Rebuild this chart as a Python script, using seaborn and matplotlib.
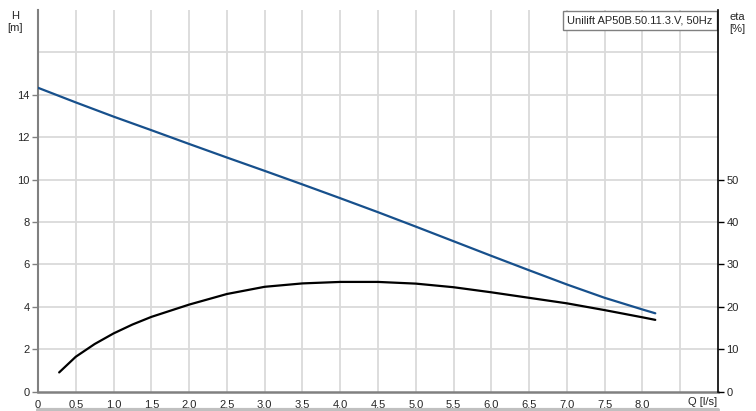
import seaborn as sns
import pandas as pd
import matplotlib.pyplot as plt
from matplotlib.lines import Line2D

# pump curve
q_head = [0, 0.5, 1.0, 1.5, 2.0, 2.5, 3.0, 3.5, 4.0, 4.5, 5.0, 5.5, 6.0, 6.5, 7.0, 7.5, 8.0, 8.17]
head = [14.33, 13.64, 12.97, 12.33, 11.68, 11.04, 10.41, 9.77, 9.12, 8.46, 7.78, 7.09, 6.40, 5.72, 5.05, 4.42, 3.87, 3.69]

q_eta = [0.28, 0.5, 0.75, 1.0, 1.25, 1.5, 2.0, 2.5, 3.0, 3.5, 4.0, 4.5, 5.0, 5.5, 6.0, 6.5, 7.0, 7.5, 8.0, 8.17]
eta = [4.5, 8.2, 11.2, 13.7, 15.8, 17.6, 20.5, 23.0, 24.7, 25.5, 25.85, 25.85, 25.45, 24.6, 23.4, 22.1, 20.8, 19.2, 17.5, 16.9]

x_ticks = [0, 0.5, 1.0, 1.5, 2.0, 2.5, 3.0, 3.5, 4.0, 4.5, 5.0, 5.5, 6.0, 6.5, 7.0, 7.5, 8.0, 8.5]
x_labels = ["0", "0.5", "1.0", "1.5", "2.0", "2.5", "3.0", "3.5", "4.0", "4.5",
            "5.0", "5.5", "6.0", "6.5", "7.0", "7.5", "8.0", ""]
h_ticks = [0, 2, 4, 6, 8, 10, 12, 14]
eta_ticks = [0, 10, 20, 30, 40, 50]
title = "Unilift AP50B.50.11.3.V, 50Hz"

df_h = pd.DataFrame({"Q": q_head, "H": head})
df_eta = pd.DataFrame({"Q": q_eta, "eta": eta})

sns.set_style("white")
plt.rcParams['font.family'] = ['Liberation Sans', 'DejaVu Sans']
plt.rcParams['font.size'] = 8

fig = plt.figure(figsize=(7.56, 4.11), dpi=100)
ax = fig.add_axes([38 / 756, 1 - 391.5 / 411, 680 / 756, 381.5 / 411])
ax2 = ax.twinx()

grid_c = "#dadada"
for xv in x_ticks[1:]:
    ax.axvline(xv, color=grid_c, lw=1.3, zorder=0)
for yv in [2, 4, 6, 8, 10, 12, 14, 16]:
    ax.axhline(yv, color=grid_c, lw=1.3, zorder=0)

sns.lineplot(data=df_h, x="Q", y="H", ax=ax, color="#17508c", lw=1.6, zorder=3)
sns.lineplot(data=df_eta, x="Q", y="eta", ax=ax2, color="black", lw=1.6, zorder=3)

ax.set_xlim(0, 9)
ax.set_ylim(0, 18)
ax2.set_ylim(0, 90)

ax.set_xticks(x_ticks)
ax.set_xticklabels(x_labels)
ax.set_yticks(h_ticks)
ax2.set_yticks(eta_ticks)
ax.set_xlabel("")
ax.set_ylabel("")
ax2.set_ylabel("")

for a in (ax, ax2):
    for s in a.spines.values():
        s.set_visible(False)
ax.spines['left'].set_visible(True)
ax.spines['left'].set_color("#808080")
ax.spines['left'].set_linewidth(1.5)
ax.spines['bottom'].set_visible(True)
ax.spines['bottom'].set_color("#808080")
ax.spines['bottom'].set_linewidth(1.8)
ax2.spines['right'].set_visible(True)
ax2.spines['right'].set_color("black")
ax2.spines['right'].set_linewidth(1.2)

ax.tick_params(axis='x', direction='out', length=4, width=1, color="#808080", pad=2, labelsize=8)
ax.tick_params(axis='y', direction='out', length=4, width=1, color="#808080", pad=2, labelsize=8)
ax2.tick_params(axis='y', direction='out', length=4, width=1, color="black", pad=2, labelsize=8)

fig.text(717 / 756, 1 - 402 / 411, "Q [l/s]", ha='right', va='center', fontsize=8)
fig.text(15 / 756, 1 - 22 / 411, "H\n[m]", ha='center', va='center', fontsize=8, linespacing=1.35)
fig.text(737 / 756, 1 - 23 / 411, "eta\n[%]", ha='center', va='center', fontsize=8, linespacing=1.35)

ax.text(0.992, 0.986, title, transform=ax.transAxes, ha='right', va='top', fontsize=8,
        bbox=dict(boxstyle='square,pad=0.4', facecolor='white', edgecolor='#808080', lw=1), zorder=5)

# grey strip at the bottom edge
fig.add_artist(Line2D([38 / 756, 718 / 756], [1 - 409.5 / 411, 1 - 409.5 / 411], color="#c0c0c0", lw=3,
                      transform=fig.transFigure))

plt.savefig("out.png", dpi=100)
